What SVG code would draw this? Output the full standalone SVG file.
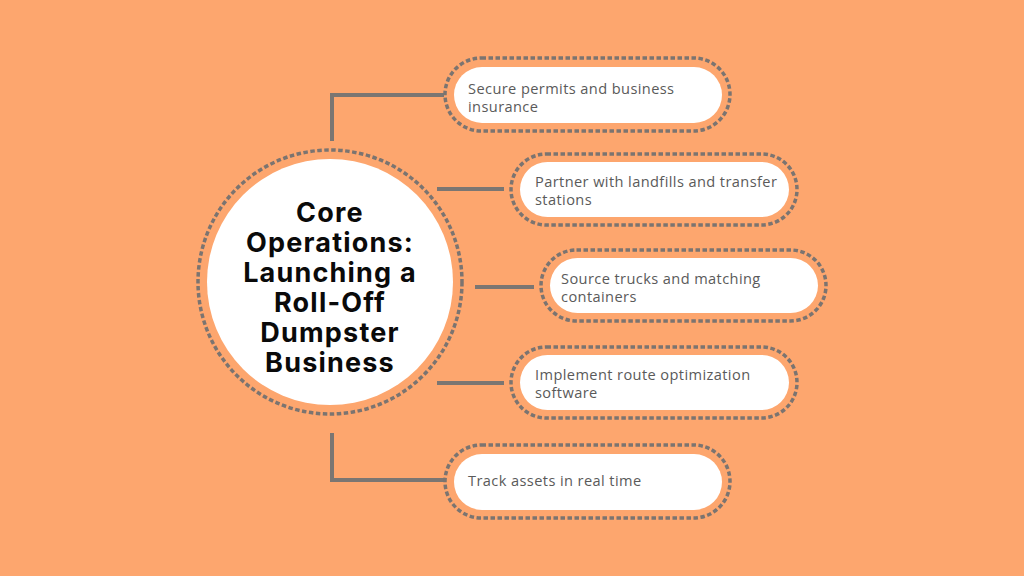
<svg xmlns="http://www.w3.org/2000/svg" width="1024" height="576" viewBox="0 0 1024 576">
<style>
.bg{fill:#FDA66E}
.ring{fill:none;stroke:#7B7470;stroke-width:3.5;stroke-dasharray:4.5 2.5}
.pill{fill:#FFFFFF}
.conn{fill:none;stroke:#7B7672;stroke-width:4}
.title{font-family:Inter,"Liberation Sans",sans-serif;font-weight:700;font-size:27px;letter-spacing:1.2px;fill:#0A0A0A;text-anchor:middle}
.lbl{font-family:"Open Sans","Liberation Sans",sans-serif;font-size:14.6px;letter-spacing:0.4px;fill:#5A5A5A}
</style>
<rect class="bg" x="0" y="0" width="1024" height="576"/>
<g id="connectors">
<path class="conn" d="M332 141 V95 H444"/>
<path class="conn" d="M437 189 H504"/>
<path class="conn" d="M475 287 H534"/>
<path class="conn" d="M437 383 H504"/>
<path class="conn" d="M332 433 V480 H444"/>
</g>
<g id="center">
<circle class="ring" cx="330" cy="282" r="132"/>
<circle class="pill" cx="330" cy="282" r="123"/>
<text class="title" x="330" y="222">Core</text>
<text class="title" x="330" y="252">Operations:</text>
<text class="title" x="330" y="282">Launching a</text>
<text class="title" x="330" y="312">Roll-Off</text>
<text class="title" x="330" y="342">Dumpster</text>
<text class="title" x="330" y="372">Business</text>
</g>
<g id="n1">
<rect class="ring" x="445" y="58" width="285" height="73" rx="36.5"/>
<rect class="pill" x="454" y="67" width="268" height="56" rx="28"/>
<text class="lbl" x="468" y="94">Secure permits and business</text>
<text class="lbl" x="468" y="112">insurance</text>
</g>
<g id="n2">
<rect class="ring" x="511" y="154" width="286" height="71" rx="35.5"/>
<rect class="pill" x="520" y="162" width="269" height="55" rx="27.5"/>
<text class="lbl" x="535" y="187">Partner with landfills and transfer</text>
<text class="lbl" x="535" y="205">stations</text>
</g>
<g id="n3">
<rect class="ring" x="541" y="250" width="285" height="71" rx="35.5"/>
<rect class="pill" x="550" y="258" width="268" height="55" rx="27.5"/>
<text class="lbl" x="561" y="283.5">Source trucks and matching</text>
<text class="lbl" x="561" y="301.5">containers</text>
</g>
<g id="n4">
<rect class="ring" x="511" y="347" width="286" height="71" rx="35.5"/>
<rect class="pill" x="520" y="355" width="269" height="55" rx="27.5"/>
<text class="lbl" x="535" y="380">Implement route optimization</text>
<text class="lbl" x="535" y="398">software</text>
</g>
<g id="n5">
<rect class="ring" x="445" y="445" width="285" height="73" rx="36.5"/>
<rect class="pill" x="454" y="454" width="268" height="56" rx="28"/>
<text class="lbl" x="468" y="486">Track assets in real time</text>
</g>
</svg>
